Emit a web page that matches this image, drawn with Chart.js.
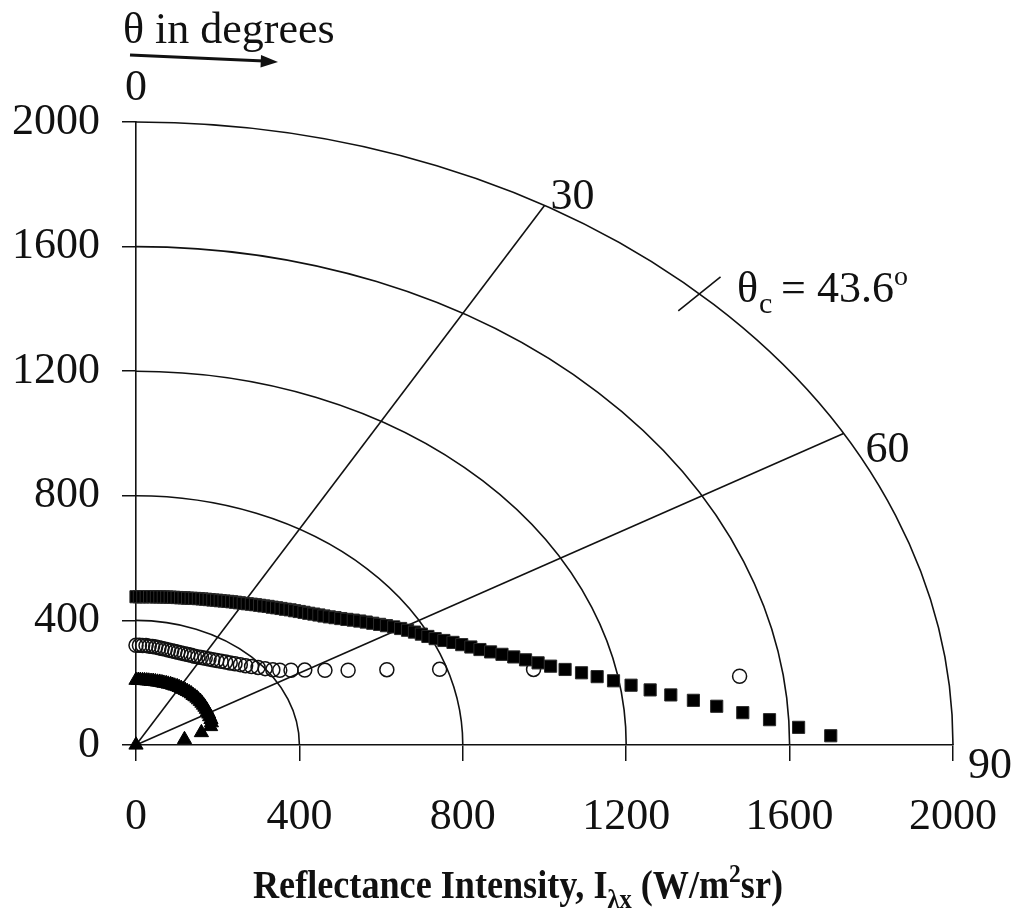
<!DOCTYPE html>
<html><head><meta charset="utf-8">
<script src="https://cdn.jsdelivr.net/npm/chart.js@4.4.1/dist/chart.umd.min.js"></script>
<style>html,body{margin:0;padding:0;background:#fff}#wrap{width:1017px;height:919px;position:relative}</style>
</head><body><div id="wrap"><canvas id="c"></canvas></div>
<script>
// ---- data (angles in degrees, intensities in W/m2sr) ----
const axisTicks = [0, 400, 800, 1200, 1600, 2000];
const arcRadii = [400, 800, 1200, 1600, 2000];
const radialAngles = [30, 60];
const angleLabels = ['0', '30', '60', '90'];
const criticalAngle = 43.6;

const squareTheta = [0,1,2,3,4,5,6,7,8,9,10,11,12,13,14,15,16,17,18,19,20,21,22,23,24,25,26,27,28,29,
  30,31,32,33,34,35,36,37,38,39,40,41,42,43,44,45,46,47,48,49,50,51,52,53,54,55,56,57,58,59,
  60,61,62,63,64,65,66,67,68,69,70,71,72,73,74,75,76,77,78,79,80,81,82,83,84,85,86,87,88,89];
const squareIntensity = [476,476,476,477,477,478,478,479,480,481,
  482,483,484,485,487,488,490,492,494,496,
  498,500,502,505,507,510,513,516,519,522,
  525,529,533,537,541,545,550,554,559,564,
  569,575,580,586,592,598,605,612,619,627,
  636,645,655,666,677,688,699,711,723,736,
  748,760,772,784,795,808,825,843,860,878,
  896,918,942,967,992,1019,1046,1078,1115,1150,
  1187,1227,1271,1319,1372,1427,1489,1553,1623,1701];

const circleTheta = [0,1.5,2.9,4.4,5.8,7.3,8.7,10.2,11.6,13.1,14.6,16.1,17.6,19.0,20.5,22.0,23.6,25.1,26.6,28.2,
  29.7,31.3,32.9,34.5,36.1,37.8,39.5,41.2,42.9,44.7,46.5,48.3,50.2,52.2,54.2,
  55.7,57.7,59.8,62.6,65.2,68.5,71.9,76.0,81.5];
const circleIntensity = [320,320,320,320,319,319,318,317,316,316,315,315,315,315,315,316,317,318,319,321,
  323,326,329,332,336,340,345,350,356,363,370,379,389,400,413,
  426,449,478,521,572,660,782,1003,1494];

const triangleTheta = [0,1.5,2.9,4.4,5.8,7.3,8.7,10.2,11.6,13.1,14.6,16.1,17.6,19.0,20.5,22.0,23.6,25.1,26.6,28.2,
  29.7,31.3,32.9,34.5,36.1,37.8,39.5,41.2,42.9,44.7,46.5,48.3,50.2,52.2,54.2,56.3,58.5,60.8,63.2,65.9,68.8,
  72.0,76.0,81.5,90];
const triangleIntensity = [208,208,208,208,208,208,208,208,209,209,209,210,210,210,211,211,212,212,212,213,
  213,213,213,213,213,213,213,212,212,212,211,211,210,209,208,207,205,204,202,201,198,
  192,165,120,0];

// polar (angle from vertical axis, intensity) -> cartesian components
function toXY(thetas, vals) {
  return thetas.map((t, i) => {
    const r = t * Math.PI / 180;
    return { x: vals[i] * Math.sin(r), y: vals[i] * Math.cos(r) };
  });
}

const SERIF = "'Liberation Serif','Times New Roman',serif";

const polarPlugin = {
  id: 'polarPlugin',
  beforeDatasetsDraw(chart) {
    const { ctx, scales: { x, y } } = chart;
    const ox = x.getPixelForValue(0), oy = y.getPixelForValue(0);
    ctx.save();
    ctx.strokeStyle = '#111';
    ctx.lineWidth = 1.6;
    arcRadii.forEach(R => {
      const rx = x.getPixelForValue(R) - ox, ry = oy - y.getPixelForValue(R);
      ctx.beginPath();
      ctx.ellipse(ox, oy, rx, ry, 0, -Math.PI / 2, 0);
      ctx.stroke();
    });
    const Rmax = arcRadii[arcRadii.length - 1];
    radialAngles.forEach(a => {
      const t = a * Math.PI / 180;
      ctx.beginPath();
      ctx.moveTo(ox, oy);
      ctx.lineTo(x.getPixelForValue(Rmax * Math.sin(t)), y.getPixelForValue(Rmax * Math.cos(t)));
      ctx.stroke();
    });
    const tc = criticalAngle * Math.PI / 180;
    ctx.beginPath();
    ctx.moveTo(x.getPixelForValue(1925 * Math.sin(tc)), y.getPixelForValue(1925 * Math.cos(tc)));
    ctx.lineTo(x.getPixelForValue(2075 * Math.sin(tc)), y.getPixelForValue(2075 * Math.cos(tc)));
    ctx.stroke();
    ctx.restore();
  },
  afterDraw(chart) {
    const { ctx, scales: { x, y }, chartArea } = chart;
    const Rmax = arcRadii[arcRadii.length - 1];
    const ox = x.getPixelForValue(0), oy = y.getPixelForValue(0);
    ctx.save();
    ctx.fillStyle = '#111';
    ctx.textBaseline = 'alphabetic';
    ctx.font = '44px ' + SERIF;
    // angle labels
    ctx.textAlign = 'center';
    ctx.fillText(angleLabels[0], ox, chartArea.top - 22);
    ctx.textAlign = 'left';
    const p30 = [x.getPixelForValue(Rmax * Math.sin(Math.PI / 6)), y.getPixelForValue(Rmax * Math.cos(Math.PI / 6))];
    ctx.fillText(angleLabels[1], p30[0] + 6, p30[1] + 4);
    const p60 = [x.getPixelForValue(Rmax * Math.sin(Math.PI / 3)), y.getPixelForValue(Rmax * Math.cos(Math.PI / 3))];
    ctx.fillText(angleLabels[2], p60[0] + 22, p60[1] + 28);
    ctx.fillText(angleLabels[3], x.getPixelForValue(Rmax) + 15, oy + 33);

    // theta_c label
    ctx.font = '44px ' + SERIF;
    ctx.fillText('θ', 737, 302);
    ctx.font = '30px ' + SERIF;
    ctx.fillText('c', 759, 313);
    ctx.font = '44px ' + SERIF;
    ctx.fillText('=', 781, 302);
    ctx.fillText(String(criticalAngle), 817, 302);
    ctx.font = '28px ' + SERIF;
    ctx.fillText('o', 894, 285);

    // "θ in degrees" with arrow
    ctx.font = '44px ' + SERIF;
    ctx.fillText('θ in degrees', 123, 43);
    ctx.strokeStyle = '#111';
    ctx.lineWidth = 3;
    ctx.beginPath();
    ctx.moveTo(130, 55);
    ctx.lineTo(264, 61);
    ctx.stroke();
    ctx.beginPath();
    ctx.moveTo(278, 62);
    ctx.lineTo(261, 55);
    ctx.lineTo(260.5, 67.5);
    ctx.closePath();
    ctx.fill();

    // axis title with sub/superscripts
    const parts = [
      { t: 'Reflectance Intensity, I', size: 40, dy: 0 },
      { t: 'λx', size: 27, dy: 10 },
      { t: ' (W/m', size: 40, dy: 0 },
      { t: '2', size: 26, dy: -16 },
      { t: 'sr)', size: 40, dy: 0 }
    ];
    let total = 0;
    parts.forEach(p => { ctx.font = 'bold ' + p.size + 'px ' + SERIF; p.w = ctx.measureText(p.t).width; total += p.w; });
    const s = 530 / total;
    ctx.translate(253, 898);
    ctx.scale(s, 1);
    let px = 0;
    parts.forEach(p => { ctx.font = 'bold ' + p.size + 'px ' + SERIF; ctx.fillText(p.t, px, p.dy); px += p.w; });
    ctx.restore();
  }
};

const tickFont = { family: SERIF, size: 44 };

new Chart(document.getElementById('c'), {
  type: 'scatter',
  data: {
    datasets: [
      { label: 'squares', data: toXY(squareTheta, squareIntensity), pointStyle: 'rect', pointRadius: 8.6,
        backgroundColor: '#000', borderColor: '#2a2a2a', borderWidth: 1, clip: false },
      { label: 'circles', data: toXY(circleTheta, circleIntensity), pointStyle: 'circle', pointRadius: 7,
        backgroundColor: 'rgba(0,0,0,0)', borderColor: '#111', borderWidth: 1.5, clip: false },
      { label: 'triangles', data: toXY(triangleTheta, triangleIntensity), pointStyle: 'triangle', pointRadius: 8.2,
        backgroundColor: '#000', borderColor: '#000', borderWidth: 1, clip: false }
    ]
  },
  options: {
    responsive: true,
    maintainAspectRatio: false,
    animation: false,
    events: [],
    layout: { padding: { top: 122, right: 64, left: 0, bottom: 0 } },
    plugins: { legend: { display: false }, tooltip: { enabled: false } },
    scales: {
      x: {
        type: 'linear', min: 0, max: 2000,
        afterBuildTicks: sc => { sc.ticks = axisTicks.map(v => ({ value: v })); },
        afterFit: sc => { sc.height = 174; sc.paddingLeft = 0; sc.paddingRight = 0; },
        ticks: { font: tickFont, color: '#111', padding: 30, maxRotation: 0, callback: v => String(v) },
        grid: { drawOnChartArea: false, drawTicks: true, tickLength: 16, color: '#111', lineWidth: 1.5 },
        border: { display: true, color: '#111', width: 1.6 }
      },
      y: {
        type: 'linear', min: 0, max: 2000,
        afterBuildTicks: sc => { sc.ticks = axisTicks.map(v => ({ value: v })); },
        afterFit: sc => { sc.width = 136; sc.paddingTop = 0; sc.paddingBottom = 0; },
        ticks: { font: tickFont, color: '#111', padding: 22, callback: v => String(v) },
        grid: { drawOnChartArea: false, drawTicks: true, tickLength: 14, color: '#111', lineWidth: 1.5 },
        border: { display: true, color: '#111', width: 1.6 }
      }
    }
  },
  plugins: [polarPlugin]
});
</script>
</body></html>
